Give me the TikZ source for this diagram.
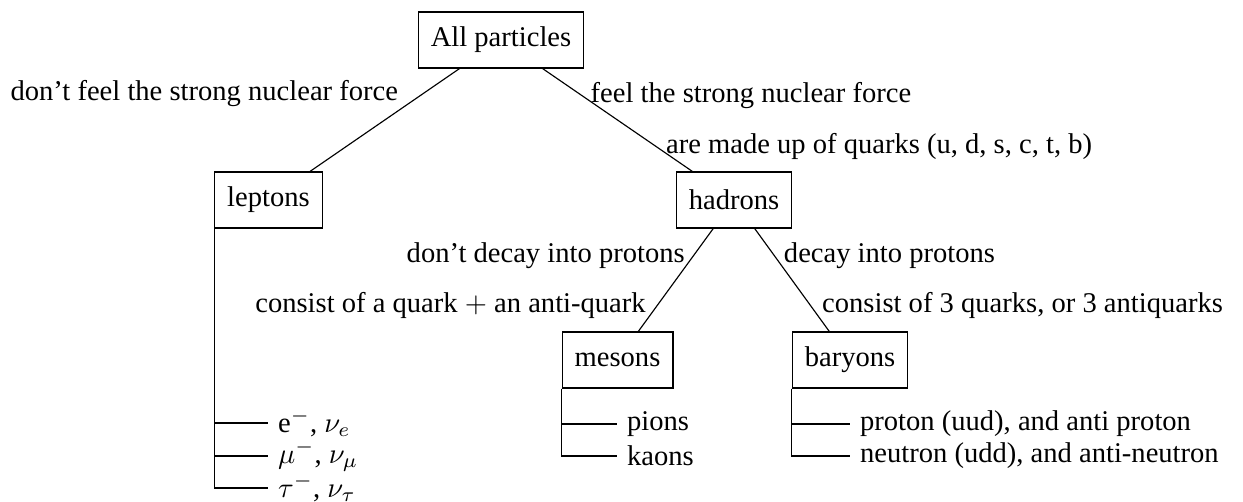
\documentclass[tikz,border=0pt]{standalone}
\usepackage{fontspec}
\setmainfont{Liberation Serif}
\usetikzlibrary{positioning}

\begin{document}
\begin{tikzpicture}[
        x=0.35pt, y=-0.35pt,
        group/.style={rectangle, draw, inner xsep=4.4pt, minimum height=19.6pt},
        leaf/.style={anchor=west},
        lbl/.style={inner sep=0pt}
    ]
        \useasboundingbox (0,0) rectangle (1243,501);

        % Groups
        \node[group] (all) at (501,40) {All particles};
        \node[group] (lep) at (268.5,200) {leptons};
        \node[group] (had) at (734,200) {hadrons};
        \node[group] (mes) at (617.5,360) {mesons};
        \node[group] (bar) at (850,360) {baryons};

        % Members
        \node[leaf] (emin) at (268,423) {e$^-$, $\nu_e$};
        \node[leaf] (mumin) at (268,456) {$\mu^-$, $\nu_\mu$};
        \node[leaf] (taumin) at (268,488) {$\tau^-$, $\nu_\tau$};
        \node[leaf] (pion) at (617,424) {pions};
        \node[leaf] (kaon) at (617,456) {kaons};
        \node[leaf] (prot) at (850,424) {proton (uud), and anti proton};
        \node[leaf] (neut) at (850,456) {neutron (udd), and anti-neutron};

        % Branches
        \draw (all) -- node[lbl, pos=0.31, anchor=base east, xshift=-5.1pt] {don't feel the strong nuclear force} (lep);
        \draw (all) -- node[lbl, pos=0.327, anchor=base west, xshift=-0.5pt] {feel the strong nuclear force}
            node[lbl, pos=0.827, anchor=base west, xshift=-0.35pt] {are made up of quarks (u, d, s, c, t, b)} (had);
        \draw (had) -- node[lbl, pos=0.327, anchor=base east, xshift=-1.2pt] {don't decay into protons}
            node[lbl, pos=0.817, anchor=base east, xshift=-2pt] {consist of a quark $+$ an anti-quark} (mes);
        \draw (had) -- node[lbl, pos=0.327, anchor=base west, xshift=1.5pt] {decay into protons}
            node[lbl, pos=0.817, anchor=base west, xshift=2.1pt] {consist of 3 quarks, or 3 antiquarks} (bar);

        % Lists
        \draw (lep.south west) |- (emin.west);
        \draw (lep.south west) |- (mumin.west);
        \draw (lep.south west) |- (taumin.west);
        \draw (mes.south west) |- (pion.west);
        \draw (mes.south west) |- (kaon.west);
        \draw (bar.south west) |- (prot.west);
        \draw (bar.south west) |- (neut.west);

    \end{tikzpicture}
\end{document}
